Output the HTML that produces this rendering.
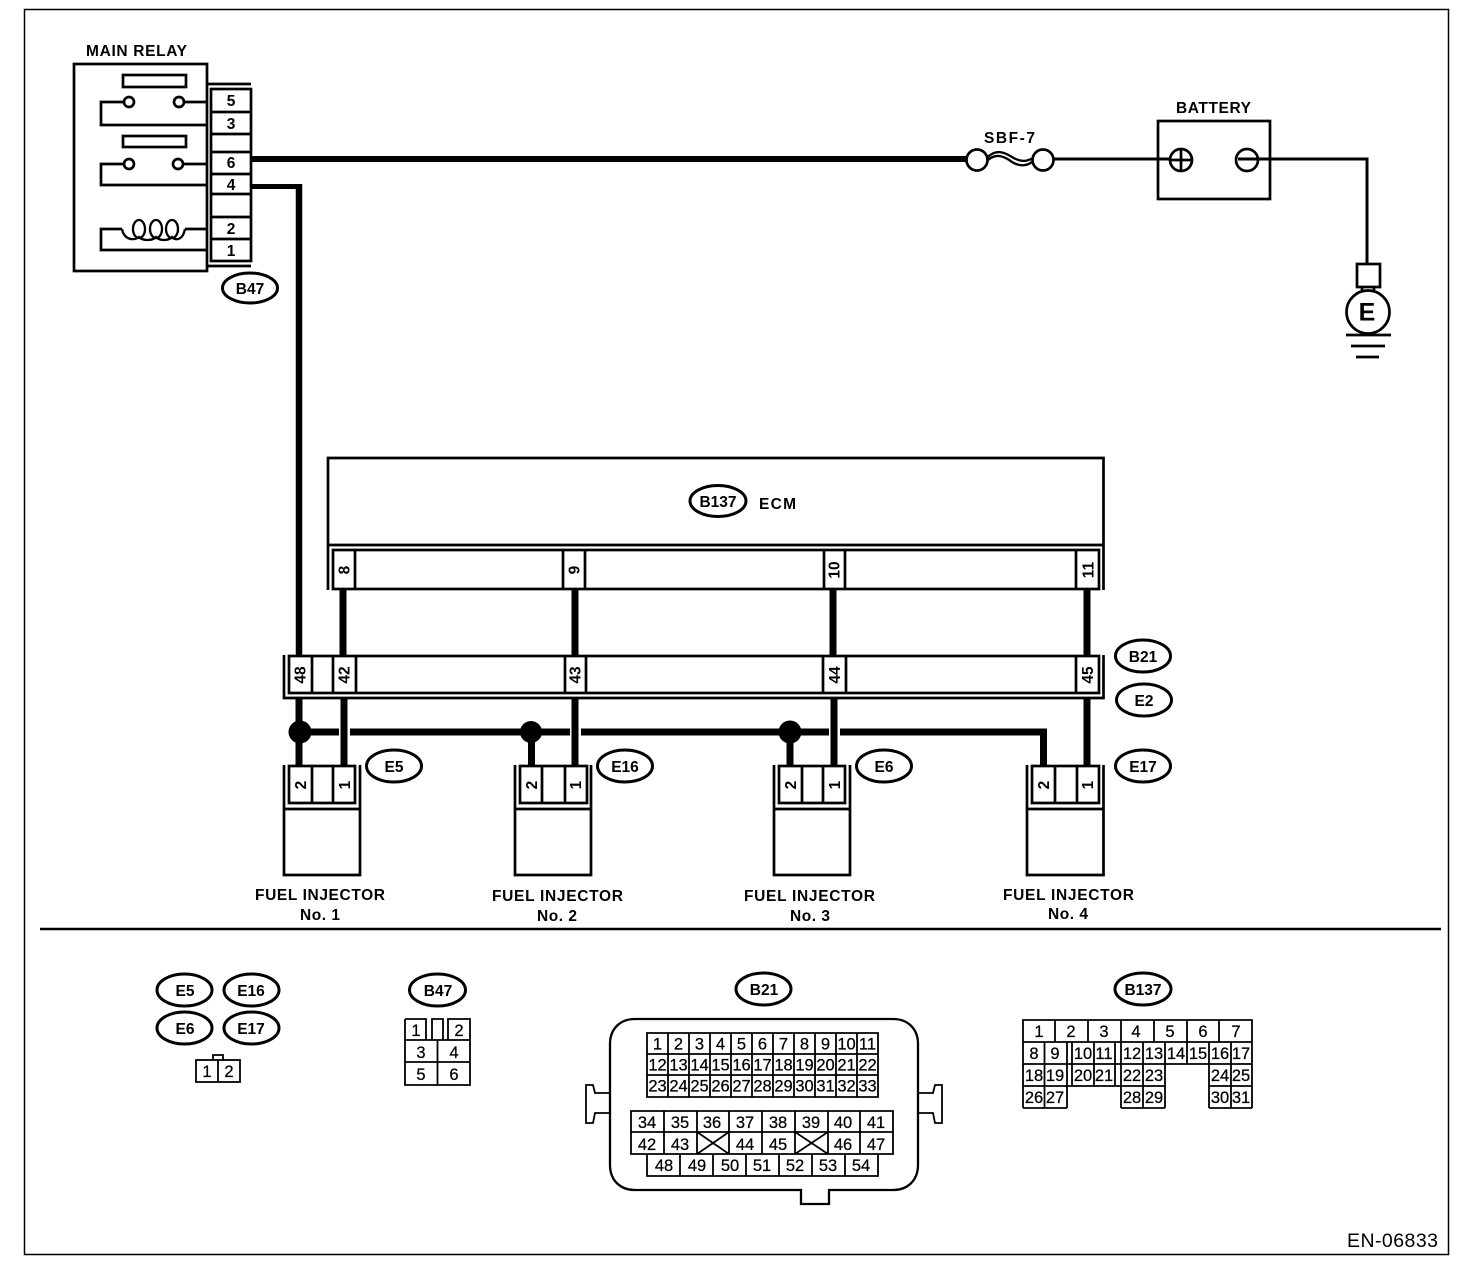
<!DOCTYPE html>
<html>
<head>
<meta charset="utf-8">
<style>
html,body{margin:0;padding:0;background:#fff}
svg{display:block}
text{font-family:"Liberation Sans",sans-serif;fill:#000}
.b{font-weight:bold;font-size:15.5px}
.c{text-anchor:middle}
.r{font-size:16.5px;text-anchor:middle;stroke:#000;stroke-width:.25}
.l{fill:none;stroke:#000;stroke-width:2.7}
.f{fill:#fff;stroke:#000;stroke-width:2.7}
.t{fill:none;stroke:#000;stroke-width:1.8}
.k{fill:none;stroke:#000;stroke-width:2.3}
.w{fill:none;stroke:#000;stroke-width:7}
.o{fill:#fff;stroke:#000;stroke-width:3}
</style>
</head>
<body>
<svg width="1472" height="1272" viewBox="0 0 1472 1272" xmlns="http://www.w3.org/2000/svg">
<rect x="24.5" y="9.5" width="1424" height="1245" fill="none" stroke="#000" stroke-width="1.5"/>
<path d="M40 929H1441" fill="none" stroke="#000" stroke-width="2.5"/>

<!-- MAIN RELAY -->
<text class="b" x="86" y="56" textLength="101">MAIN RELAY</text>
<rect class="l" x="74" y="64" width="133" height="207"/>
<path class="l" d="M207 84H251M207 266H251"/>
<rect class="l" x="211" y="89" width="40" height="172"/>
<path class="l" d="M211 112H251M211 134H251M211 152H251M211 174H251M211 194H251M211 217H251M211 239H251"/>
<text class="b c" x="231" y="106">5</text>
<text class="b c" x="231" y="129">3</text>
<text class="b c" x="231" y="168">6</text>
<text class="b c" x="231" y="190">4</text>
<text class="b c" x="231" y="234">2</text>
<text class="b c" x="231" y="256">1</text>
<rect class="l" x="123" y="75" width="63" height="12"/>
<path class="l" d="M124 102H101V125H207M184 102H207"/>
<circle class="f" cx="129" cy="102" r="5"/><circle class="f" cx="179" cy="102" r="5"/>
<rect class="l" x="123" y="136" width="63" height="11"/>
<path class="l" d="M124 164H101V185H207M183 164H207"/>
<circle class="f" cx="129" cy="164" r="5"/><circle class="f" cx="178" cy="164" r="5"/>
<path class="l" d="M122 229H101V250H207M185 229H207"/>
<path class="k" d="M122 229C124 240 134 241 139 237C143 241 152 241 156 237C160 241 168 241 172 237C176 241 183 240 185 229"/>
<ellipse class="k" cx="139" cy="229" rx="6" ry="9"/><ellipse class="k" cx="156" cy="229" rx="6" ry="9"/><ellipse class="k" cx="172" cy="229" rx="6" ry="9"/>
<ellipse class="o" cx="250" cy="288" rx="27.5" ry="15"/>
<text class="b c" x="250" y="294">B47</text>

<!-- power wires -->
<path fill="none" stroke="#000" stroke-width="6" d="M251 159H968"/>
<path fill="none" stroke="#000" stroke-width="5" d="M251 186.500H299"/>
<path fill="none" stroke="#000" stroke-width="6.500" d="M299 184V655"/>
<path class="l" style="stroke-width:3" d="M1054 159H1170M1247 159H1367V264"/>

<!-- Fuse -->
<text class="b" x="984" y="143" textLength="51">SBF-7</text>
<circle class="f" cx="977" cy="160" r="10.500"/>
<circle class="f" cx="1043" cy="160" r="10.500"/>
<path class="k" d="M988 157C996 149 1004 152 1012 157C1020 162 1026 162 1033 158"/>
<path class="k" d="M988 160C996 153 1004 156 1012 162C1020 167 1028 166 1033 161"/>

<!-- Battery -->
<text class="b" x="1176" y="113" textLength="75">BATTERY</text>
<rect class="l" x="1158" y="121" width="112" height="78"/>
<path class="l" style="stroke-width:3" d="M1158 159H1170"/>
<circle class="f" cx="1181" cy="160" r="11"/>
<path class="l" d="M1170 160H1192M1181 149V171"/>
<circle class="f" cx="1247" cy="160" r="11"/>
<path class="l" style="stroke-width:3" d="M1238 159H1270"/>

<!-- Ground -->
<rect class="l" x="1357" y="264" width="23" height="23"/>
<path class="l" d="M1362 287V292M1374 287V292"/>
<circle class="f" cx="1368" cy="312" r="21.500"/>
<text x="1367" y="320.500" font-size="25" font-weight="bold" text-anchor="middle">E</text>
<path class="l" d="M1346 335H1391M1351 346H1385M1356 357H1379"/>

<!-- ECM -->
<path class="l" d="M328 590V458H1103.500V590M328 545H1103.500"/>
<rect class="l" x="333" y="550" width="766" height="39"/>
<path class="l" d="M355 550V589M563 550V589M585 550V589M824 550V589M845 550V589M1076 550V589"/>
<ellipse class="o" cx="718" cy="501" rx="28" ry="15.500"/>
<text class="b c" x="718" y="507">B137</text>
<text class="b" x="759" y="509" textLength="37">ECM</text>
<text class="b c" transform="translate(349.500 570) rotate(-90)">8</text>
<text class="b c" transform="translate(579.500 570) rotate(-90)">9</text>
<text class="b c" transform="translate(839.500 570) rotate(-90)">10</text>
<text class="b c" transform="translate(1093.500 570) rotate(-90)">11</text>

<!-- ECM to B21 wires -->
<path class="w" d="M343 590V655M575 590V655M833 590V655M1087 590V655"/>

<!-- B21/E2 -->
<path class="l" d="M284 655V698H1103.500V655"/>
<rect class="l" x="289" y="656" width="810" height="37"/>
<path class="l" d="M312 656V693M333 656V693M356 656V693M565 656V693M586 656V693M823 656V693M846 656V693M1076 656V693"/>
<text class="b c" transform="translate(305.500 675) rotate(-90)">48</text>
<text class="b c" transform="translate(349.500 675) rotate(-90)">42</text>
<text class="b c" transform="translate(580.500 675) rotate(-90)">43</text>
<text class="b c" transform="translate(840 675) rotate(-90)">44</text>
<text class="b c" transform="translate(1093 675) rotate(-90)">45</text>
<ellipse class="o" cx="1143" cy="656" rx="27.500" ry="16"/><text class="b c" x="1143" y="662">B21</text>
<ellipse class="o" cx="1144" cy="700" rx="27.500" ry="16"/><text class="b c" x="1144" y="706">E2</text>

<!-- lower wires -->
<path class="w" d="M299 699V765M344 699V765M575 699V765M834 699V765M1087 699V765M531.500 732V765M790 732V765"/>
<path class="w" d="M299 732H339M350 732H570M581 732H829M840 732H1043.500V765"/>
<circle cx="300" cy="732" r="11.500"/><circle cx="531" cy="732" r="11"/><circle cx="790" cy="732" r="11.500"/>

<!-- Injector 1 -->
<path class="l" d="M284 765V875H360V765M284 809H360"/>
<rect class="l" x="289" y="766" width="66" height="37"/>
<path class="l" d="M312 766V803M333 766V803"/>
<text class="b c" transform="translate(306 785) rotate(-90)">2</text>
<text class="b c" transform="translate(350 785) rotate(-90)">1</text>
<ellipse class="o" cx="394" cy="766" rx="27.500" ry="16"/><text class="b c" x="394" y="772">E5</text>
<text class="b" x="255" y="900" textLength="130">FUEL INJECTOR</text>
<text class="b" x="300" y="920" textLength="40">No. 1</text>

<!-- Injector 2 -->
<path class="l" d="M515 765V875H591V765M515 809H591"/>
<rect class="l" x="520" y="766" width="67" height="37"/>
<path class="l" d="M542 766V803M565 766V803"/>
<text class="b c" transform="translate(537 785) rotate(-90)">2</text>
<text class="b c" transform="translate(581 785) rotate(-90)">1</text>
<ellipse class="o" cx="625" cy="766" rx="27.500" ry="16"/><text class="b c" x="625" y="772">E16</text>
<text class="b" x="492" y="901" textLength="131">FUEL INJECTOR</text>
<text class="b" x="537" y="921" textLength="40">No. 2</text>

<!-- Injector 3 -->
<path class="l" d="M774 765V875H850V765M774 809H850"/>
<rect class="l" x="779" y="766" width="66" height="37"/>
<path class="l" d="M802 766V803M823 766V803"/>
<text class="b c" transform="translate(796 785) rotate(-90)">2</text>
<text class="b c" transform="translate(840 785) rotate(-90)">1</text>
<ellipse class="o" cx="884" cy="766" rx="27.500" ry="16"/><text class="b c" x="884" y="772">E6</text>
<text class="b" x="744" y="901" textLength="131">FUEL INJECTOR</text>
<text class="b" x="790" y="921" textLength="40">No. 3</text>

<!-- Injector 4 -->
<path class="l" d="M1027 765V875H1103.500V765M1027 809H1103.500"/>
<rect class="l" x="1032" y="766" width="67" height="37"/>
<path class="l" d="M1055 766V803M1077 766V803"/>
<text class="b c" transform="translate(1049 785) rotate(-90)">2</text>
<text class="b c" transform="translate(1093 785) rotate(-90)">1</text>
<ellipse class="o" cx="1143" cy="766" rx="27.500" ry="16"/><text class="b c" x="1143" y="772">E17</text>
<text class="b" x="1003" y="900" textLength="131">FUEL INJECTOR</text>
<text class="b" x="1048" y="919" textLength="40">No. 4</text>

<!-- Lower ovals -->
<ellipse class="o" cx="184.500" cy="990" rx="27.500" ry="16"/><text class="b c" x="185" y="996">E5</text>
<ellipse class="o" cx="251.500" cy="990" rx="27.500" ry="16"/><text class="b c" x="251" y="996">E16</text>
<ellipse class="o" cx="184.500" cy="1028" rx="27.500" ry="16"/><text class="b c" x="185" y="1034">E6</text>
<ellipse class="o" cx="251.500" cy="1028" rx="27.500" ry="16"/><text class="b c" x="251" y="1034">E17</text>

<!-- 1-2 connector -->
<rect class="t" x="196" y="1060" width="44" height="22"/>
<path class="t" d="M218 1060V1082M213 1060V1055H223V1060"/>
<text class="r" x="207" y="1077">1</text><text class="r" x="229" y="1077">2</text>

<!-- B47 connector -->
<ellipse class="o" cx="437.500" cy="990" rx="28" ry="16"/><text class="b c" x="438" y="996">B47</text>
<path class="t" d="M405 1019H426V1040M432 1040V1019H443V1040M448 1040V1019H470V1085H405V1019M405 1040H470M405 1062H470M437.500 1040V1085"/>
<text class="r" x="416" y="1036">1</text><text class="r" x="459" y="1036">2</text>
<text class="r" x="421" y="1058">3</text><text class="r" x="454" y="1058">4</text>
<text class="r" x="421" y="1080">5</text><text class="r" x="454" y="1080">6</text>

<!-- B21 connector -->
<ellipse class="o" cx="763.500" cy="989" rx="27.500" ry="16"/><text class="b c" x="764" y="995">B21</text>
<path class="t" d="M610 1093H595L593 1085H586V1123H593L595 1113H610M918 1093H933L935 1085H942V1123H935L933 1113H918"/>
<path class="k" d="M635 1019H893C908 1019 918 1029 918 1044V1165C918 1180 908 1190 893 1190H829V1204H801V1190H635C620 1190 610 1180 610 1165V1044C610 1029 620 1019 635 1019Z"/>
<!-- top grid -->
<path class="t" d="M647 1033H878V1097H647ZM647 1054H878M647 1075H878M668 1033V1097M689 1033V1097M710 1033V1097M731 1033V1097M752 1033V1097M773 1033V1097M794 1033V1097M815 1033V1097M836 1033V1097M857 1033V1097"/>
<g>
<text class="r" x="657.500" y="1049.500">1</text><text class="r" x="678.500" y="1049.500">2</text><text class="r" x="699.500" y="1049.500">3</text><text class="r" x="720.500" y="1049.500">4</text><text class="r" x="741.500" y="1049.500">5</text><text class="r" x="762.500" y="1049.500">6</text><text class="r" x="783.500" y="1049.500">7</text><text class="r" x="804.500" y="1049.500">8</text><text class="r" x="825.500" y="1049.500">9</text><text class="r" x="846.500" y="1049.500">10</text><text class="r" x="867.500" y="1049.500">11</text>
<text class="r" x="657.500" y="1070.500">12</text><text class="r" x="678.500" y="1070.500">13</text><text class="r" x="699.500" y="1070.500">14</text><text class="r" x="720.500" y="1070.500">15</text><text class="r" x="741.500" y="1070.500">16</text><text class="r" x="762.500" y="1070.500">17</text><text class="r" x="783.500" y="1070.500">18</text><text class="r" x="804.500" y="1070.500">19</text><text class="r" x="825.500" y="1070.500">20</text><text class="r" x="846.500" y="1070.500">21</text><text class="r" x="867.500" y="1070.500">22</text>
<text class="r" x="657.500" y="1091.500">23</text><text class="r" x="678.500" y="1091.500">24</text><text class="r" x="699.500" y="1091.500">25</text><text class="r" x="720.500" y="1091.500">26</text><text class="r" x="741.500" y="1091.500">27</text><text class="r" x="762.500" y="1091.500">28</text><text class="r" x="783.500" y="1091.500">29</text><text class="r" x="804.500" y="1091.500">30</text><text class="r" x="825.500" y="1091.500">31</text><text class="r" x="846.500" y="1091.500">32</text><text class="r" x="867.500" y="1091.500">33</text>
</g>
<!-- mid grid -->
<path class="t" d="M631 1111H893V1154H631ZM631 1132H893M664 1111V1154M697 1111V1154M729 1111V1154M762 1111V1154M795 1111V1154M828 1111V1154M860 1111V1154M697 1132L729 1154M729 1132L697 1154M795 1132L828 1154M828 1132L795 1154"/>
<path class="t" d="M647 1154V1176H878V1154M680 1154V1176M713 1154V1176M746 1154V1176M779 1154V1176M812 1154V1176M845 1154V1176"/>
<g>
<text class="r" x="647" y="1128">34</text><text class="r" x="680" y="1128">35</text><text class="r" x="712" y="1128">36</text><text class="r" x="745" y="1128">37</text><text class="r" x="778" y="1128">38</text><text class="r" x="811" y="1128">39</text><text class="r" x="843" y="1128">40</text><text class="r" x="876" y="1128">41</text>
<text class="r" x="647" y="1150">42</text><text class="r" x="680" y="1150">43</text><text class="r" x="745" y="1150">44</text><text class="r" x="778" y="1150">45</text><text class="r" x="843" y="1150">46</text><text class="r" x="876" y="1150">47</text>
<text class="r" x="664" y="1171">48</text><text class="r" x="697" y="1171">49</text><text class="r" x="730" y="1171">50</text><text class="r" x="762" y="1171">51</text><text class="r" x="795" y="1171">52</text><text class="r" x="828" y="1171">53</text><text class="r" x="861" y="1171">54</text>
</g>

<!-- B137 connector -->
<ellipse class="o" cx="1143" cy="989" rx="28" ry="16"/><text class="b c" x="1143" y="995">B137</text>
<path class="t" d="M1023 1020H1252V1064H1023ZM1023 1042H1252M1055 1020V1042M1088 1020V1042M1121 1020V1042M1154 1020V1042M1187 1020V1042M1219 1020V1042"/>
<path class="t" d="M1044.500 1042V1108M1067 1042V1108M1072 1042V1086M1094 1042V1086M1115 1042V1086M1121 1042V1108M1143 1042V1108M1165 1042V1108M1187 1042V1064M1209 1042V1108M1231 1042V1108M1252 1064V1108M1023 1064V1108M1023 1086H1165M1209 1086H1252M1023 1108H1067M1121 1108H1165M1209 1108H1252"/>
<g>
<text class="r" x="1039" y="1037">1</text><text class="r" x="1071" y="1037">2</text><text class="r" x="1104" y="1037">3</text><text class="r" x="1136" y="1037">4</text><text class="r" x="1170" y="1037">5</text><text class="r" x="1203" y="1037">6</text><text class="r" x="1236" y="1037">7</text>
<text class="r" x="1034" y="1059">8</text><text class="r" x="1055" y="1059">9</text><text class="r" x="1083" y="1059">10</text><text class="r" x="1104" y="1059">11</text><text class="r" x="1132" y="1059">12</text><text class="r" x="1154" y="1059">13</text><text class="r" x="1176" y="1059">14</text><text class="r" x="1198" y="1059">15</text><text class="r" x="1220" y="1059">16</text><text class="r" x="1241" y="1059">17</text>
<text class="r" x="1034" y="1081">18</text><text class="r" x="1055" y="1081">19</text><text class="r" x="1083" y="1081">20</text><text class="r" x="1104" y="1081">21</text><text class="r" x="1132" y="1081">22</text><text class="r" x="1154" y="1081">23</text><text class="r" x="1220" y="1081">24</text><text class="r" x="1241" y="1081">25</text>
<text class="r" x="1034" y="1103">26</text><text class="r" x="1055" y="1103">27</text><text class="r" x="1132" y="1103">28</text><text class="r" x="1154" y="1103">29</text><text class="r" x="1220" y="1103">30</text><text class="r" x="1241" y="1103">31</text>
</g>

<text x="1347" y="1247" font-size="19.500" textLength="91">EN-06833</text>
</svg>
</body>
</html>
